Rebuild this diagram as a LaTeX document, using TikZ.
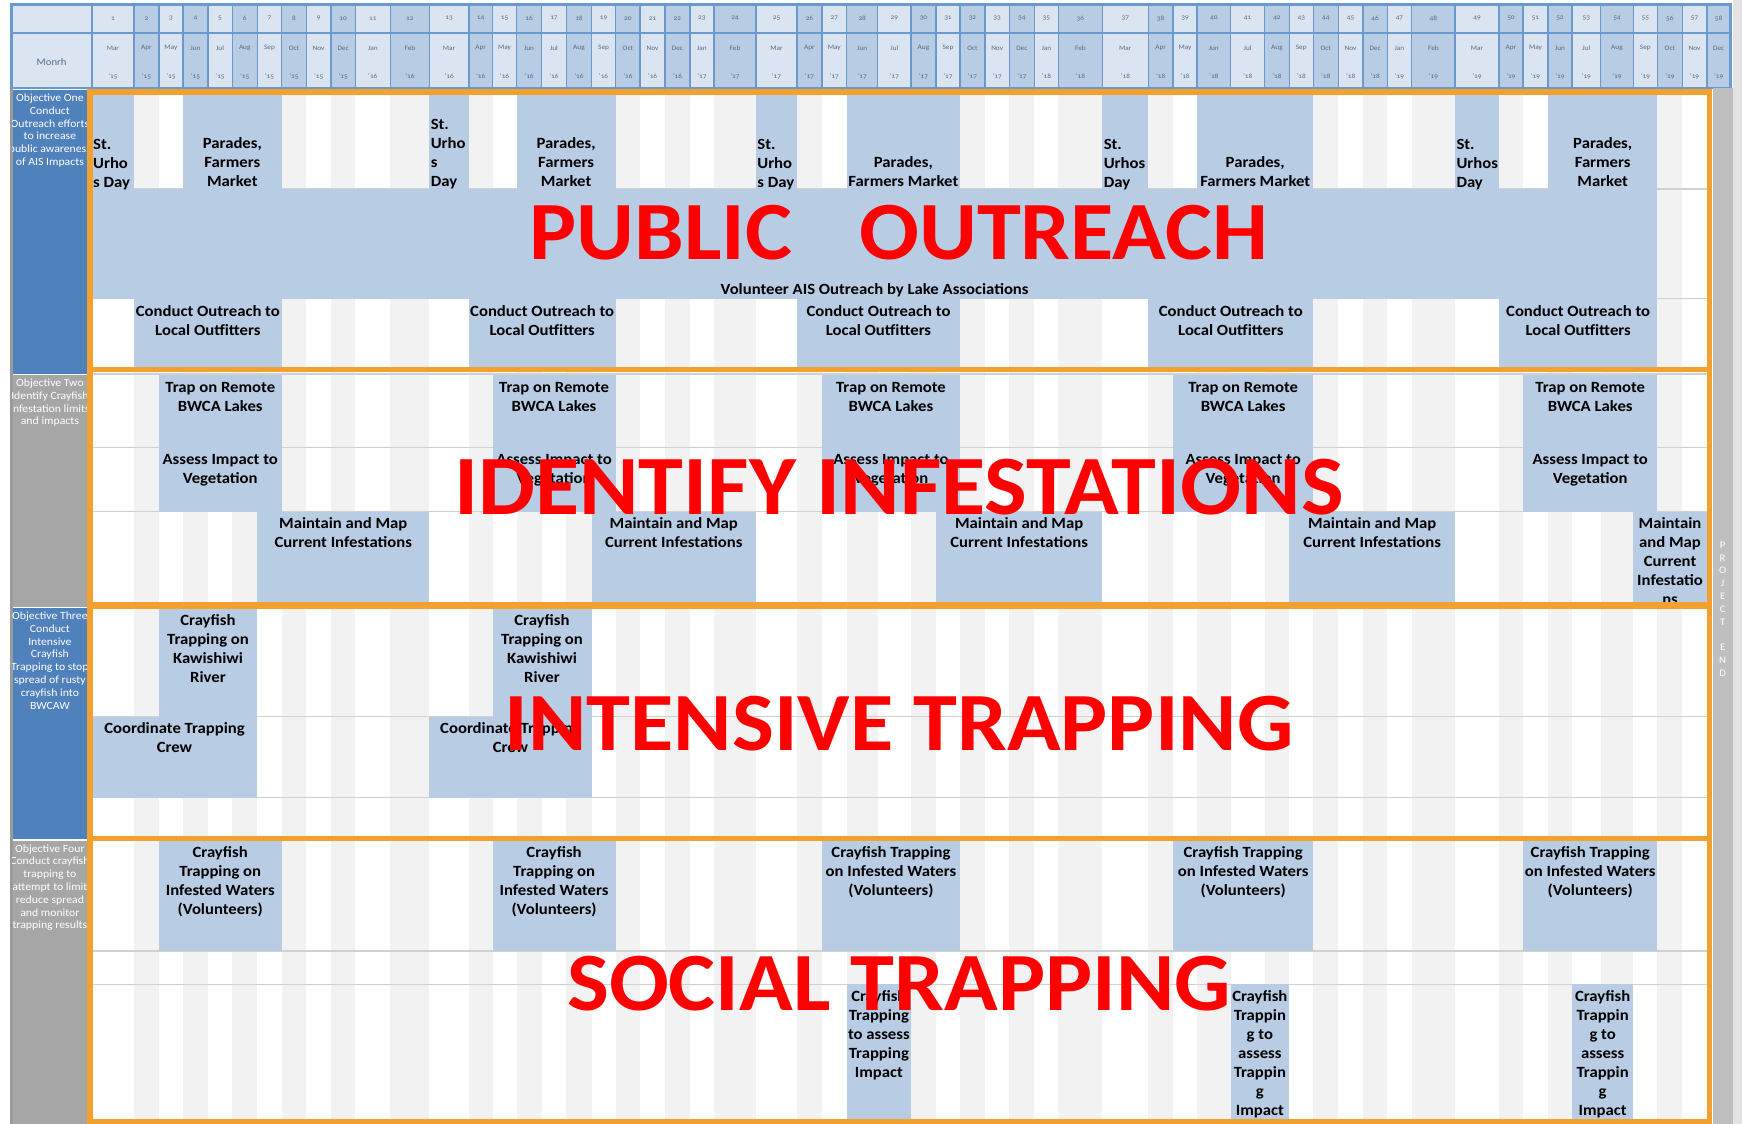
\documentclass[tikz,border=0pt]{standalone}
\usepackage{fontspec}
\setmainfont{Carlito}[FakeStretch=1.07]
\definecolor{hdrdark}{HTML}{B8CCE4}
\definecolor{hdrlight}{HTML}{DBE5F1}
\definecolor{hdrline}{HTML}{6A99D0}
\definecolor{hdrtext}{HTML}{546A8A}
\definecolor{taskblue}{HTML}{B8CCE4}
\definecolor{stripe}{HTML}{F2F2F2}
\definecolor{gridgray}{HTML}{D0D0D0}
\definecolor{objblue}{HTML}{4F81BD}
\definecolor{objgray}{HTML}{A6A6A6}
\definecolor{frameorange}{HTML}{F2A12E}
\definecolor{endgray}{HTML}{BFBFBF}
\definecolor{rightgray}{HTML}{E3E3E3}
\definecolor{leftgray}{HTML}{9A9A9A}
\def\colbounds{11.5,91.8,134,158.8,183,207.8,232.3,257.2,281.7,306.2,331,355.2,390.4,429.4,468.8,492.5,516.6,541.5,566.4,591.5,615.6,640.1,665,689.8,714,756,797,821.9,846.7,877.7,911,935.9,960,984.9,1009.4,1034.3,1058.4,1102.4,1148.3,1173,1197.1,1230.5,1264.7,1289.2,1313.3,1338.2,1363,1387.2,1411.7,1455.1,1498.9,1523,1547.9,1572,1600.6,1633.3,1657.4,1682.3,1706.8,1730.5}
\newcommand\colx[1]{\csname colxb\the\numexpr#1\relax\endcsname}
\newcommand\colmid[2]{(\colx{#1}+\colx{#2+1})/2}
\tikzset{
  taskfill/.style={fill=taskblue},
  tasklbl/.style={font=\bfseries\fontsize{7.8}{9.5}\selectfont,align=center,inner sep=0pt,anchor=north},
  urholbl/.style={tasklbl,align=left,anchor=north west},
  objlbl/.style={font=\fontsize{5.5}{6.4}\selectfont,text=white,align=center,inner sep=0pt,anchor=north},
  hdrlbl/.style={font=\fontsize{3.4}{4}\selectfont\addfontfeatures{Numbers=OldStyle},text=hdrtext,inner sep=0pt},
  hdrln/.style={draw=hdrline,line width=0.7pt},
  framebox/.style={draw=frameorange,line width=2.75pt},
  gridln/.style={draw=gridgray,line width=0.7pt},
  biglbl/.style={font=\bfseries\fontsize{41.4}{48}\selectfont,text=red,inner sep=0pt,anchor=base}
}
\begin{document}
\begin{tikzpicture}[x=0.5pt,y=-0.5pt]
\foreach \xx [count=\i from 0] in \colbounds {\expandafter\xdef\csname colxb\i\endcsname{\xx}}
\foreach \mm [count=\i from 0] in {Jan,Feb,Mar,Apr,May,Jun,Jul,Aug,Sep,Oct,Nov,Dec} {\expandafter\xdef\csname mname\i\endcsname{\mm}}
\useasboundingbox (0,0) rectangle (1742,1124);
\fill[white] (0,0) rectangle (1742,1124);
\fill[rightgray] (1732.5,0) rectangle (1742,1124);
\fill[leftgray] (10,88) rectangle (12.7,1124);
\foreach \k in {2,4,...,56} \fill[stripe] (\colx{\k},88) rectangle (\colx{\k+1},1124);
\foreach \yy in {189,298.5,374,447.7,511.7,716.7,797.7,951,984.3} \draw[gridln] (\colx{1},\yy) -- (\colx{58},\yy);

\filldraw[hdrln,fill=hdrlight] (11.5,4.6) rectangle (91.8,33);
\filldraw[hdrln,fill=hdrlight] (11.5,33) rectangle (91.8,88);
\node[hdrlbl,font=\fontsize{5}{6}\selectfont] (monrh) at (51.6,61.7) {Monrh};
\foreach \k in {1,...,58}{
  \pgfmathtruncatemacro\mi{mod(\k+1,12)}
  \pgfmathtruncatemacro\yr{15+floor((\k+1)/12)}
  \pgfmathtruncatemacro\ev{mod(\k,2)}
  \ifnum\ev=0 \def\hc{hdrdark}\else\def\hc{hdrlight}\fi
  \filldraw[hdrln,fill=\hc] (\colx{\k},4.6) rectangle (\colx{\k+1},33);
  \filldraw[hdrln,fill=\hc] (\colx{\k},33) rectangle (\colx{\k+1},88);
  \node[hdrlbl] (n\k) at ({\colmid{\k}{\k}},18.3) {\k};
  \node[hdrlbl] (m\k) at ({\colmid{\k}{\k}},48.3) {\csname mname\mi\endcsname};
  \node[hdrlbl] (y\k) at ({\colmid{\k}{\k}},76) {’\yr};
}
\draw[hdrln,line width=1.2pt] (11.5,4.6) rectangle (1730.5,88);

\fill[objblue] (12.7,90) rectangle (87,374.3);
\fill[objgray] (12.7,375.3) rectangle (87,606.7);
\fill[objblue] (12.7,607.7) rectangle (87,839.3);
\fill[objgray] (12.7,840.5) rectangle (87,1124);
\begin{scope}
\clip (12.7,90) rectangle (87,1124);
\node[objlbl] (obj1) at (49.9,93.5) {Objective One\\Conduct\\Outreach efforts\\to increase\\public awareness\\of AIS Impacts};
\node[objlbl] (obj2) at (49.9,378.5) {Objective Two\\Identify Crayfish\\Infestation limits\\and impacts};
\node[objlbl] (obj3) at (49.9,611.5) {Objective Three\\Conduct\\Intensive\\Crayfish\\Trapping to stop\\spread of rusty\\crayfish into\\BWCAW};
\node[objlbl] (obj4) at (49.9,844) {Objective Four\\Conduct crayfish\\trapping to\\attempt to limit\\reduce spread\\and monitor\\trapping results};
\end{scope}

\fill[endgray] (1712.7,88) rectangle (1732.5,1124);
\node[font=\fontsize{5}{6.4}\selectfont,text=white,align=center,inner sep=0pt,anchor=north] (pend) at (1722.6,541.5) {P\\R\\O\\J\\E\\C\\T\\[6.4pt]E\\N\\D};

\foreach \a/\b in {1/1,4/7,13/13,16/19,25/25,28/31,37/37,40/43,49/49,52/55} \fill[taskfill] (\colx{\a},92) rectangle (\colx{\b+1},189.5);
\fill[taskfill] (\colx{1},189) rectangle (\colx{56},299);
\foreach \a/\b in {2/7,14/19,26/31,38/43,50/55} \fill[taskfill] (\colx{\a},298.5) rectangle (\colx{\b+1},369);
\foreach \a/\b in {3/7,15/19,27/31,39/43,51/55} \fill[taskfill] (\colx{\a},375) rectangle (\colx{\b+1},511.7);
\foreach \a/\b in {7/12,19/24,31/36,43/48,55/57} \fill[taskfill] (\colx{\a},511.7) rectangle (\colx{\b+1},604);
\foreach \a/\b in {3/6,15/18} \fill[taskfill] (\colx{\a},606) rectangle (\colx{\b+1},717);
\foreach \a/\b in {1/6,13/18} \fill[taskfill] (\colx{\a},716.7) rectangle (\colx{\b+1},797.7);
\foreach \a/\b in {3/7,15/19,27/31,39/43,51/55} \fill[taskfill] (\colx{\a},838) rectangle (\colx{\b+1},951);
\foreach \a/\b in {28/29,41/42,53/54} \fill[taskfill] (\colx{\a},984.3) rectangle (\colx{\b+1},1124);

\node[urholbl] (urho1) at ({\colx{1}+1},138.5) {St.\\Urho\\s Day};
\node[urholbl] (urho2) at ({\colx{13}+1},119) {St.\\Urho\\s\\Day};
\node[urholbl] (urho3) at ({\colx{25}+1},138.5) {St.\\Urho\\s Day};
\node[urholbl] (urho4) at ({\colx{37}+1},138.5) {St.\\Urhos\\Day};
\node[urholbl] (urho5) at ({\colx{49}+1},138.5) {St.\\Urhos\\Day};
\foreach \a/\b [count=\i] in {4/7,16/19,52/55} \node[tasklbl] (parade\i) at ({\colmid{\a}{\b}},137.5) {Parades,\\Farmers\\Market};
\foreach \a/\b [count=\i from 4] in {28/31,40/43} \node[tasklbl] (parade\i) at ({\colmid{\a}{\b}},156.5) {Parades,\\Farmers Market};
\node[tasklbl] (volunteer) at ({\colmid{1}{55}},283.5) {Volunteer AIS Outreach by Lake Associations};
\foreach \a/\b [count=\i] in {2/7,14/19,26/31,38/43,50/55} \node[tasklbl] (outfit\i) at ({\colmid{\a}{\b}},305.5) {Conduct Outreach to\\Local Outfitters};
\foreach \a/\b [count=\i] in {3/7,15/19,27/31,39/43,51/55} {
  \node[tasklbl] (trap\i) at ({\colmid{\a}{\b}},381.5) {Trap on Remote\\BWCA Lakes};
  \node[tasklbl] (assess\i) at ({\colmid{\a}{\b}},453.5) {Assess Impact to\\Vegetation};
}
\foreach \a/\b [count=\i] in {7/12,19/24,31/36,43/48} \node[tasklbl] (map\i) at ({\colmid{\a}{\b}},517.5) {Maintain and Map\\Current Infestations};
\node[tasklbl] (map5) at ({\colmid{55}{57}},517.5) {Maintain\\and Map\\Current\\Infestatio\\ns};
\foreach \a/\b [count=\i] in {3/6,15/18} \node[tasklbl] (river\i) at ({\colmid{\a}{\b}},614.5) {Crayfish\\Trapping on\\Kawishiwi\\River};
\foreach \a/\b [count=\i] in {1/6,13/18} \node[tasklbl] (crew\i) at ({\colmid{\a}{\b}},722.5) {Coordinate Trapping\\Crew};
\foreach \a/\b [count=\i] in {3/7,15/19} \node[tasklbl] (waters\i) at ({\colmid{\a}{\b}},846) {Crayfish\\Trapping on\\Infested Waters\\(Volunteers)};
\foreach \a/\b [count=\i from 3] in {27/31,39/43,51/55} \node[tasklbl] (waters\i) at ({\colmid{\a}{\b}},846) {Crayfish Trapping\\on Infested Waters\\(Volunteers)};
\node[tasklbl] (impact1) at ({\colmid{28}{29}},990) {Crayfish\\Trapping\\to assess\\Trapping\\Impact};
\foreach \a/\b [count=\i from 2] in {41/42,53/54} \node[tasklbl] (impact\i) at ({\colmid{\a}{\b}},990) {Crayfish\\Trappin\\g to\\assess\\Trappin\\g\\Impact};

\draw[framebox] (90,92) rectangle (1709.7,369.3);
\draw[framebox] (90,369.3) rectangle (1709.7,605);
\draw[framebox] (90,606) rectangle (1709.7,838.3);
\draw[framebox] (90,838.3) rectangle (1709.7,1121.5);

\node[biglbl] (outreach) at (899,259) {PUBLIC\hspace{33.5pt}OUTREACH};
\node[biglbl,font=\bfseries\fontsize{42.2}{48}\selectfont] (identify) at (899,514) {IDENTIFY INFESTATIONS};
\node[biglbl] (intensive) at (899,750.7) {INTENSIVE TRAPPING};
\node[biglbl] (social) at (899,1010) {SOCIAL TRAPPING};
\end{tikzpicture}
\end{document}
